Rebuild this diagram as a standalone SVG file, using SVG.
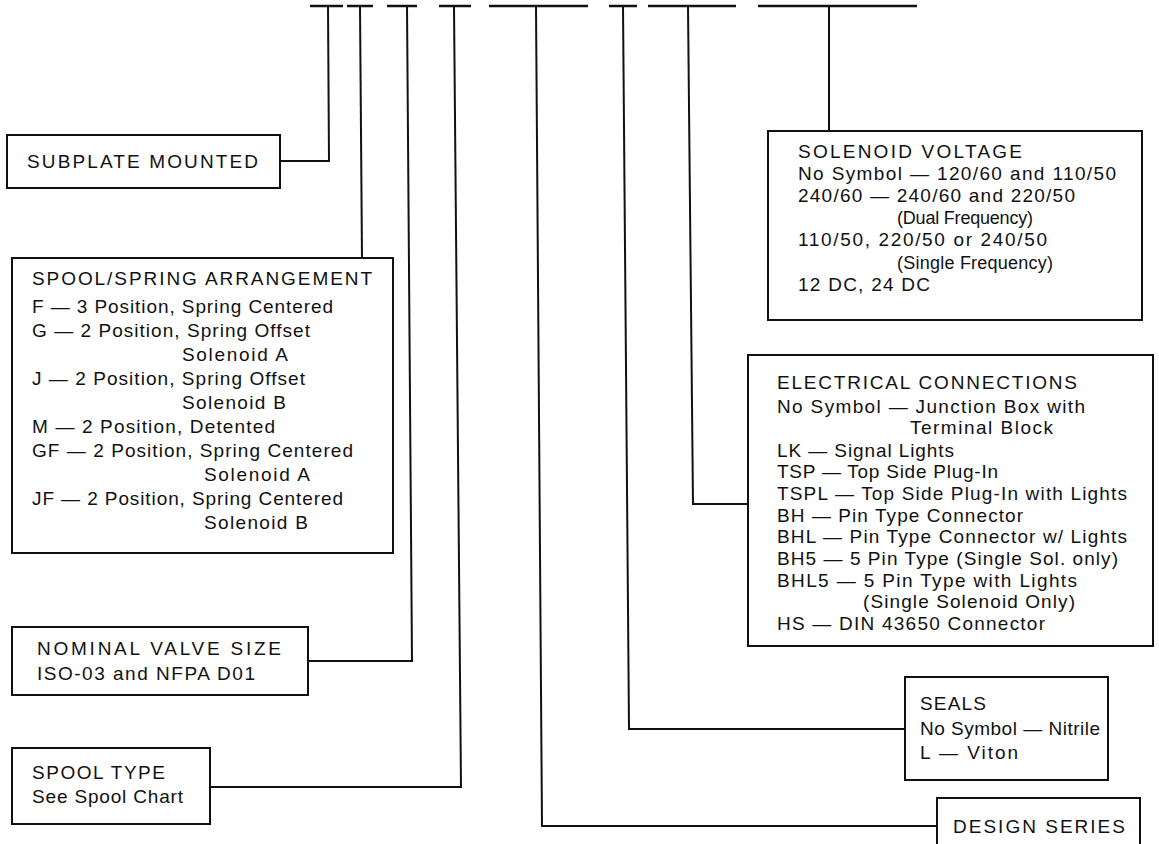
<svg xmlns="http://www.w3.org/2000/svg" width="1159" height="844" viewBox="0 0 1159 844">
<style>
.box{fill:#fff;stroke:#111;stroke-width:2}
.ln{fill:none;stroke:#111;stroke-width:2}
.bar{fill:none;stroke:#111;stroke-width:2.6}
text{font-family:"Liberation Sans",Arial,Helvetica,sans-serif;font-size:19px;fill:#111}
.sm{font-size:18px}
</style>
<rect width="1159" height="844" fill="#fff"/>
<g id="connectors">
<path class="bar" d="M310 6H343M347 6H373M387 6H417M439 6H471M489 6H588M609 6H637M648 6H736M758 6H917"/>
<path class="ln" d="M328 6L329 161H280"/>
<path class="ln" d="M360 6L362 258"/>
<path class="ln" d="M407 6L412 661H308"/>
<path class="ln" d="M454 6L461 787H210"/>
<path class="ln" d="M536 6L542 826H937"/>
<path class="ln" d="M623 6L629 729H905"/>
<path class="ln" d="M688 6L693 504H748"/>
<path class="ln" d="M829 6V131"/>
</g>
<g id="subplate">
<rect class="box" x="7" y="135" width="273" height="53"/>
<text x="27" y="168" textLength="231" lengthAdjust="spacing">SUBPLATE MOUNTED</text>
</g>
<g id="spool-spring">
<rect class="box" x="12" y="258" width="381" height="295"/>
<text x="32" y="285" textLength="340" lengthAdjust="spacing">SPOOL/SPRING ARRANGEMENT</text>
<text x="32" y="313" textLength="301" lengthAdjust="spacing">F — 3 Position, Spring Centered</text>
<text x="32" y="337" textLength="278" lengthAdjust="spacing">G — 2 Position, Spring Offset</text>
<text x="182" y="361" textLength="106" lengthAdjust="spacing">Solenoid A</text>
<text x="32" y="385" textLength="273" lengthAdjust="spacing">J — 2 Position, Spring Offset</text>
<text x="182" y="409" textLength="104" lengthAdjust="spacing">Solenoid B</text>
<text x="32" y="433" textLength="243" lengthAdjust="spacing">M — 2 Position, Detented</text>
<text x="32" y="457" textLength="321" lengthAdjust="spacing">GF — 2 Position, Spring Centered</text>
<text x="204" y="481" textLength="106" lengthAdjust="spacing">Solenoid A</text>
<text x="32" y="505" textLength="311" lengthAdjust="spacing">JF — 2 Position, Spring Centered</text>
<text x="204" y="529" textLength="104" lengthAdjust="spacing">Solenoid B</text>
</g>
<g id="nominal-size">
<rect class="box" x="12" y="627" width="296" height="68"/>
<text x="37" y="655" textLength="244" lengthAdjust="spacing">NOMINAL VALVE SIZE</text>
<text x="37" y="680" textLength="218" lengthAdjust="spacing">ISO-03 and NFPA D01</text>
</g>
<g id="spool-type">
<rect class="box" x="12" y="748" width="198" height="76"/>
<text x="32" y="779" textLength="133" lengthAdjust="spacing">SPOOL TYPE</text>
<text x="32" y="803" textLength="151" lengthAdjust="spacing">See Spool Chart</text>
</g>
<g id="solenoid-voltage">
<rect class="box" x="768" y="131" width="374" height="189"/>
<text x="798" y="158" textLength="224" lengthAdjust="spacing">SOLENOID VOLTAGE</text>
<text x="798" y="180" textLength="318" lengthAdjust="spacing">No Symbol — 120/60 and 110/50</text>
<text x="798" y="202" textLength="277" lengthAdjust="spacing">240/60 — 240/60 and 220/50</text>
<text class="sm" x="897" y="224" textLength="136" lengthAdjust="spacing">(Dual Frequency)</text>
<text x="798" y="246" textLength="249" lengthAdjust="spacing">110/50, 220/50 or 240/50</text>
<text class="sm" x="897" y="269" textLength="156" lengthAdjust="spacing">(Single Frequency)</text>
<text x="798" y="291" textLength="132" lengthAdjust="spacing">12 DC, 24 DC</text>
</g>
<g id="electrical">
<rect class="box" x="748" y="355" width="405" height="291"/>
<text x="777" y="389" textLength="300" lengthAdjust="spacing">ELECTRICAL CONNECTIONS</text>
<text x="777" y="413" textLength="308" lengthAdjust="spacing">No Symbol — Junction Box with</text>
<text x="910" y="434" textLength="143" lengthAdjust="spacing">Terminal Block</text>
<text x="777" y="457" textLength="177" lengthAdjust="spacing">LK — Signal Lights</text>
<text x="777" y="478" textLength="221" lengthAdjust="spacing">TSP — Top Side Plug-In</text>
<text x="777" y="500" textLength="350" lengthAdjust="spacing">TSPL — Top Side Plug-In with Lights</text>
<text x="777" y="522" textLength="246" lengthAdjust="spacing">BH — Pin Type Connector</text>
<text x="777" y="543" textLength="350" lengthAdjust="spacing">BHL — Pin Type Connector w/ Lights</text>
<text x="777" y="565" textLength="341" lengthAdjust="spacing">BH5 — 5 Pin Type (Single Sol. only)</text>
<text x="777" y="587" textLength="300" lengthAdjust="spacing">BHL5 — 5 Pin Type with Lights</text>
<text x="863" y="608" textLength="212" lengthAdjust="spacing">(Single Solenoid Only)</text>
<text x="777" y="630" textLength="268" lengthAdjust="spacing">HS — DIN 43650 Connector</text>
</g>
<g id="seals">
<rect class="box" x="905" y="677" width="203" height="103"/>
<text x="920" y="710" textLength="66" lengthAdjust="spacing">SEALS</text>
<text x="920" y="735" textLength="180" lengthAdjust="spacing">No Symbol — Nitrile</text>
<text x="920" y="759" textLength="98" lengthAdjust="spacing">L — Viton</text>
</g>
<g id="design-series">
<rect class="box" x="937" y="798" width="203" height="60"/>
<text x="953" y="833" textLength="172" lengthAdjust="spacing">DESIGN SERIES</text>
</g>
</svg>
